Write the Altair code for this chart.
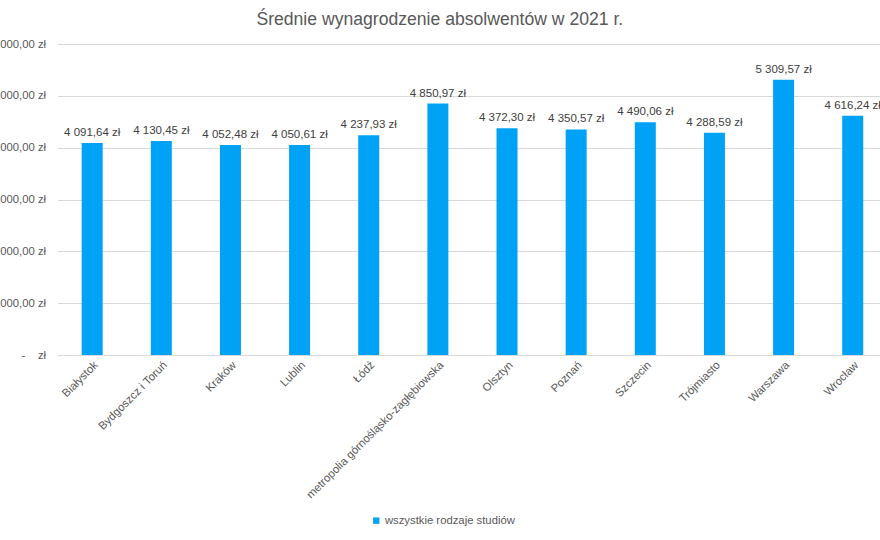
import altair as alt
import pandas as pd

# ---- data ----
cities = [
    "Białystok", "Bydgoszcz i Toruń", "Kraków", "Lublin", "Łódź",
    "metropolia górnośląsko-zagłębiowska", "Olsztyn", "Poznań",
    "Szczecin", "Trójmiasto", "Warszawa", "Wrocław",
]
values = [4091.64, 4130.45, 4052.48, 4050.61, 4237.93, 4850.97,
          4372.30, 4350.57, 4490.06, 4288.59, 5309.57, 4616.24]
series_name = "wszystkie rodzaje studiów"
chart_title = "Średnie wynagrodzenie absolwentów w 2021 r."
y_ticks = [0, 1000, 2000, 3000, 4000, 5000, 6000]

df = pd.DataFrame({"miasto": cities, "wartosc": values, "seria": series_name})

FONT = "Liberation Sans"
BAR = "#00A2F5"
GRAY = "#595959"

pln_expr = "replace(replace(format({v}, ',.2f'), ',', ' '), '.', ',') + ' zł'"
ylabel_expr = ("datum.value == 0 ? '-\u00a0\u00a0\u00a0\u00a0zł' : "
               + pln_expr.format(v="datum.value"))

x_enc = alt.X(
    "miasto:N",
    sort=cities,
    scale=alt.Scale(range=[0, 829.7], paddingInner=0, paddingOuter=0),
    axis=alt.Axis(
        title=None, labelAngle=-45, ticks=False, domainColor="#d9d9d9",
        labelColor=GRAY, labelFontSize=11.3, labelPadding=4, labelLimit=400,
    ),
)
y_enc = alt.Y(
    "wartosc:Q",
    scale=alt.Scale(domain=[0, 6000], nice=False),
    axis=alt.Axis(
        title=None, values=y_ticks, labelExpr=ylabel_expr, ticks=False,
        domain=False, gridColor="#d9d9d9", labelColor=GRAY,
        labelFontSize=11.3, labelPadding=12,
    ),
)

base = alt.Chart(df)

bars = base.mark_bar(size=21).encode(
    x=x_enc,
    y=y_enc,
    color=alt.Color(
        "seria:N",
        scale=alt.Scale(range=[BAR]),
        legend=alt.Legend(
            title=None, orient="none", legendX=313, legendY=471,
            symbolType="square", symbolSize=40, symbolStrokeWidth=0,
            labelFontSize=11.3, labelColor=GRAY, labelOffset=3,
        ),
    ),
)

labels = base.transform_calculate(
    etykieta=pln_expr.format(v="datum.wartosc")
).mark_text(baseline="bottom", dy=-5, fontSize=11.5, color="#404040").encode(
    x=alt.X("miasto:N", sort=cities),
    y=alt.Y("wartosc:Q"),
    text="etykieta:N",
)

chart = (
    alt.layer(bars, labels)
    .properties(
        width=822.4,
        height=311,
        autosize=alt.AutoSizeParams(type="none"),
        padding={"left": 57.6, "top": 44, "right": 0, "bottom": 185},
        title=alt.Title(
            chart_title, fontSize=17.6, color=GRAY, fontWeight="normal",
            offset=9, anchor="middle", dx=-29,
        ),
        background="white",
    )
    .configure(font=FONT)
    .configure_view(stroke=None)
)

chart.save("out.html", embed_options={"renderer": "svg", "actions": False})
